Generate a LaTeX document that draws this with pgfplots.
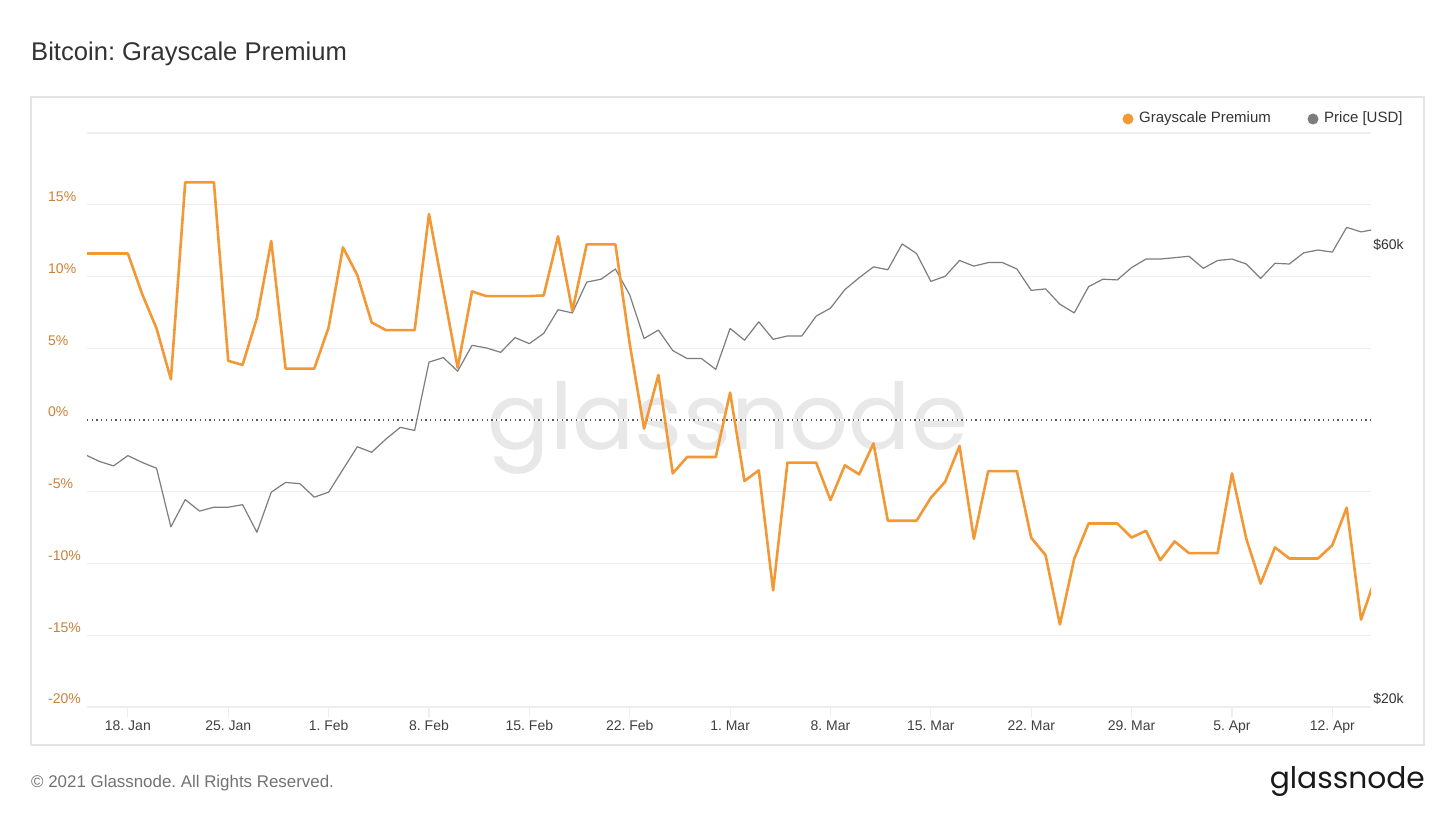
\documentclass[border=0pt]{standalone}
\usepackage{pgfplots}
\pgfplotsset{compat=1.18}
\usepackage{graphicx}
\usepackage{fontspec}
\setmainfont{Liberation Sans}
\newfontfamily\logofont{Poppins}
\definecolor{btc}{RGB}{242,152,52}
\definecolor{pricegray}{RGB}{125,125,125}
\definecolor{ticko}{RGB}{204,128,52}
\definecolor{txt}{RGB}{51,51,51}
\definecolor{gridc}{RGB}{238,238,238}
\definecolor{framec}{RGB}{228,228,228}
\frenchspacing

% day index: Jan d -> d, Feb d -> 31+d, Mar d -> 59+d, Apr d -> 90+d
\pgfplotstableread{
d price
15 36.8
16 36.2
17 35.8
18 36.7
19 36.1
20 35.6
21 30.9
22 33.0
23 32.1
24 32.4
25 32.4
26 32.6
27 30.5
28 33.6
29 34.4
30 34.3
31 33.2
32 33.6
33 35.5
34 37.5
35 37.0
36 38.2
37 39.3
38 39.0
39 46.0
40 46.5
41 45.0
42 47.9
43 47.6
44 47.1
45 48.8
46 48.1
47 49.3
48 52.2
49 51.8
50 55.8
51 56.2
52 57.6
53 54.1
54 48.7
55 49.7
56 47.3
57 46.4
58 46.4
59 45.2
60 49.9
61 48.5
62 50.7
63 48.6
64 49.0
65 49.0
66 51.4
67 52.4
68 54.8
69 56.4
70 57.9
71 57.5
72 61.2
73 59.8
74 55.9
75 56.6
76 58.8
77 58.0
78 58.5
79 58.5
80 57.6
81 54.7
82 54.9
83 52.9
84 51.8
85 55.2
86 56.2
87 56.1
88 57.8
89 59.0
90 59.0
91 59.2
92 59.4
93 57.7
94 58.8
95 59.0
96 58.3
97 56.3
98 58.4
99 58.3
100 59.9
101 60.3
102 60.0
103 63.7
104 63.0
105 63.4
}\pricetable

\pgfplotstableread{
d prem
15 11.6
16 11.6
17 11.6
18 11.6
19 8.77
20 6.38
21 2.84
22 16.56
23 16.56
24 16.56
25 4.12
26 3.84
27 7.1
28 12.47
29 3.58
30 3.58
31 3.58
32 6.45
33 12.03
34 10.1
35 6.8
36 6.26
37 6.26
38 6.26
39 14.35
40 9.0
41 3.65
42 8.96
43 8.63
44 8.63
45 8.63
46 8.63
47 8.68
48 12.8
49 7.6
50 12.24
51 12.24
52 12.24
53 5.3
54 -0.6
55 3.14
56 -3.72
57 -2.58
58 -2.58
59 -2.58
60 1.91
61 -4.25
62 -3.51
63 -11.88
64 -2.97
65 -2.97
66 -2.97
67 -5.58
68 -3.16
69 -3.79
70 -1.63
71 -7.02
72 -7.02
73 -7.02
74 -5.42
75 -4.3
76 -1.81
77 -8.28
78 -3.56
79 -3.56
80 -3.56
81 -8.21
82 -9.42
83 -14.25
84 -9.67
85 -7.21
86 -7.21
87 -7.21
88 -8.19
89 -7.72
90 -9.77
91 -8.46
92 -9.28
93 -9.28
94 -9.28
95 -3.72
96 -8.28
97 -11.4
98 -8.88
99 -9.65
100 -9.65
101 -9.65
102 -8.72
103 -6.11
104 -13.91
105 -11.0
}\premtable

\pgfplotsset{base/.style={at={(87pt,112pt)}, anchor=south west, scale only axis,
  width=1284pt, height=574pt, xmin=15.15, xmax=104.7}}

\begin{document}
\begin{tikzpicture}
\path[use as bounding box, fill=white] (0pt,0pt) rectangle (1456pt,819pt);
\draw[framec, line width=1.5pt] (31pt,74pt) rectangle (1424pt,722pt);
\node[anchor=base west, inner sep=0pt, text=txt, font=\fontsize{25.6}{30}\selectfont] at (31pt,758pt) {Bitcoin: Grayscale Premium};
% watermark
\node[anchor=base, inner sep=0pt, text=black!9] at (728pt,369pt) {\resizebox{480pt}{!}{\logofont glassnode}};
% legend
\fill[btc] (1128pt,700pt) circle (5.5pt);
\node[anchor=west, inner sep=0pt, text=txt, font=\fontsize{15}{18}\selectfont] at (1139pt,700pt) {Grayscale Premium};
\fill[pricegray] (1313pt,700pt) circle (5.5pt);
\node[anchor=west, inner sep=0pt, text=txt, font=\fontsize{15}{18}\selectfont] at (1324pt,700pt) {Price [USD]};
% footer
\node[anchor=base west, inner sep=0pt, text=black!55, font=\fontsize{16.9}{20}\selectfont] at (31pt,31pt) {© 2021 Glassnode. All Rights Reserved.};
\node[anchor=base east, inner sep=0pt, text=black!90] at (1425pt,30pt) {\resizebox{155pt}{!}{\logofont glassnode}};

% background axis: grid, ticks and percent labels
\begin{axis}[base, ymin=-20, ymax=20,
  axis line style={draw=none},
  ytick={-20,-15,...,20},
  yticklabels={-20\%,-15\%,-10\%,-5\%,0\%,5\%,10\%,15\%,{}},
  ymajorgrids, grid style={gridc, line width=1.2pt},
  ytick style={draw=none},
  xtick={18,25,32,39,46,53,60,67,74,81,88,95,102},
  xticklabels={18. Jan,25. Jan,1. Feb,8. Feb,15. Feb,22. Feb,1. Mar,8. Mar,15. Mar,22. Mar,29. Mar,5. Apr,12. Apr},
  xtick pos=bottom,
  xtick style={draw=gridc, line width=1.2pt},
  major tick length=10pt, tick align=outside,
  xticklabel style={text=black!75, font=\fontsize{14}{16}\selectfont},
  yticklabel style={anchor=base west, inner sep=0pt, xshift=-29pt, yshift=3pt, text=ticko, font=\fontsize{14}{16}\selectfont}]
\draw[white, line width=1.8pt] (axis cs:15.15,0) -- (axis cs:104.7,0);
\draw[black!65, line width=1.3pt, dash pattern=on 1.3pt off 3.4pt] (axis cs:15.15,0) -- (axis cs:104.7,0);
\end{axis}

% price axis (log, right)
\begin{axis}[base,
  ymode=log, ymin=20, ymax=80,
  axis x line=none, axis y line*=right,
  axis line style={draw=none},
  ytick={20,60}, yticklabels={\$20k,\$60k},
  ytick style={draw=none},
  yticklabel style={anchor=base west, inner sep=0pt, xshift=2pt, yshift=3pt, text=txt, font=\fontsize{14}{16}\selectfont}]
\addplot[pricegray, line width=1.2pt, line join=round] table[x=d, y=price] {\pricetable};
\end{axis}

% premium axis (left), data only
\begin{axis}[base, ymin=-20, ymax=20, hide axis]
\addplot[btc, line width=2.6pt, line join=round] table[x=d, y=prem] {\premtable};
\end{axis}
\end{tikzpicture}
\end{document}
